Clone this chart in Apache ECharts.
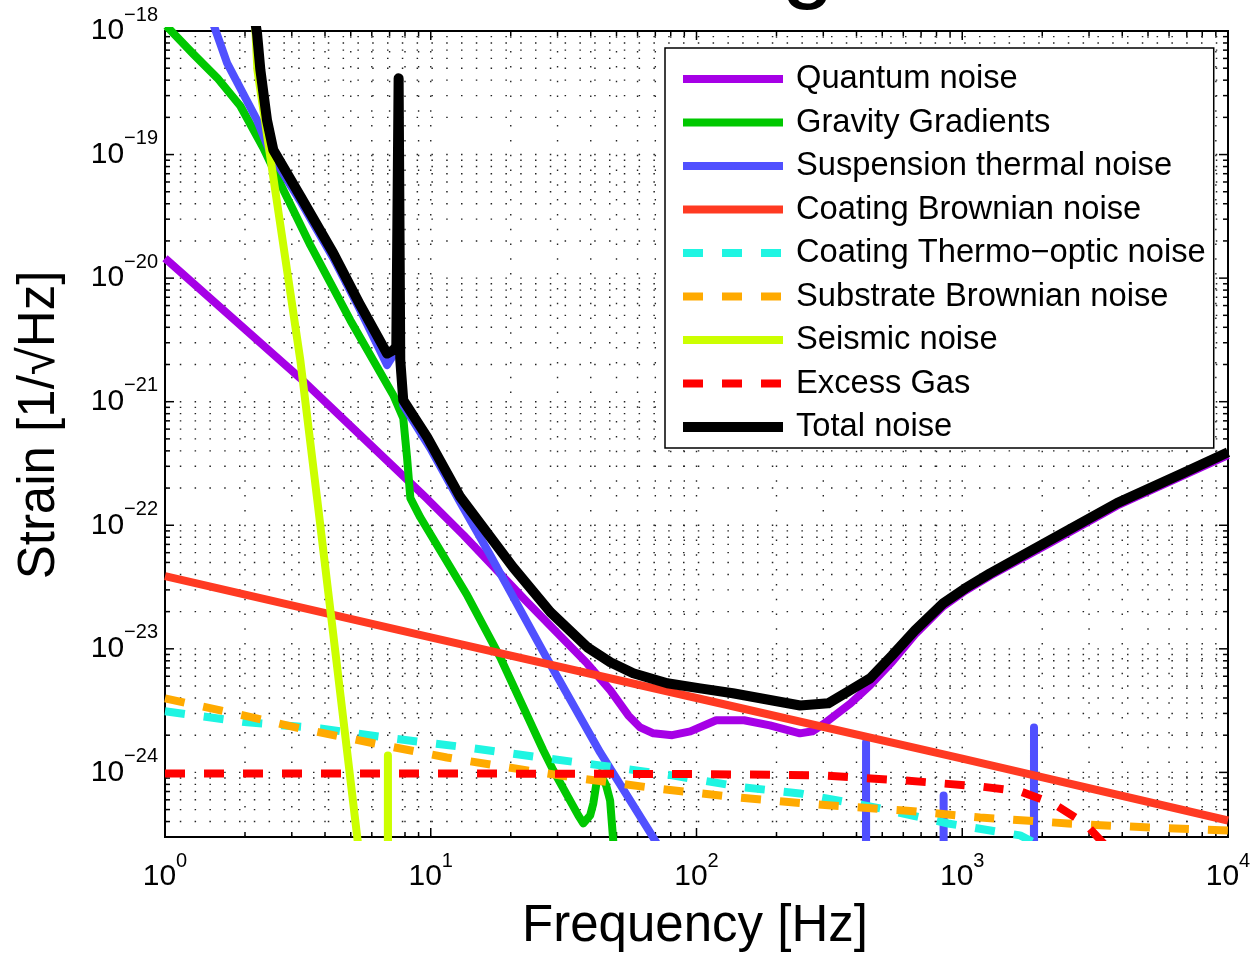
<!DOCTYPE html>
<html>
<head>
<meta charset="utf-8">
<title>Noise budget</title>
<script src="https://cdn.jsdelivr.net/npm/echarts@6/dist/echarts.min.js"></script>
<style>
  html, body { margin: 0; padding: 0; background: #fff; }
  #main { width: 1254px; height: 954px; }
</style>
</head>
<body>
<div id="main"></div>
<script type="text/javascript">
// values, [frequency Hz, strain 1/sqrt(Hz)]
const quantumNoise = [
  [1, 1.45e-20], [3.23, 1.55e-21], [9.68, 1.64e-22], [13.3, 8.3e-23], [22.7, 2.47e-23],
  [38.8, 7.6e-24], [47.4, 4.61e-24], [55.4, 2.89e-24], [61.4, 2.31e-24], [68.8, 2.07e-24],
  [81, 2.0e-24], [94.8, 2.15e-24], [118.6, 2.64e-24], [151, 2.64e-24], [189, 2.4e-24],
  [245, 2.07e-24], [273, 2.15e-24], [303, 2.49e-24], [380, 3.62e-24], [450, 5.06e-24],
  [545, 7.85e-24], [664, 1.31e-23], [847, 2.2e-23], [1026, 2.95e-23], [1273, 3.9e-23],
  [2140, 7.2e-23], [3822, 1.44e-22], [6770, 2.52e-22], [10000, 3.7e-22]
];
const gravityGradients = [
  [1.012, 1.1e-18], [1.279, 6.5e-19], [1.574, 4.16e-19], [1.921, 2.47e-19], [2.345, 1.13e-19],
  [2.789, 5.16e-20], [3.523, 1.85e-20], [4.98, 4.57e-21], [7.23, 1.13e-21], [7.88, 7.35e-22],
  [8.14, 3.57e-22], [8.38, 1.66e-22], [9.13, 1.16e-22], [13.73, 2.7e-23], [18.26, 8.53e-24],
  [26.5, 1.51e-24], [28.9, 1.04e-24], [35.9, 4.49e-25], [37.5, 3.87e-25], [39.8, 4.49e-25],
  [40.9, 5.61e-25], [42.3, 8.93e-25], [43.4, 9.8e-25], [45.7, 7.85e-25], [47.3, 5.93e-25],
  [48.6, 2.81e-25], [49, 1.94e-25]
];
const suspensionThermal = [
  [1.456, 1.48e-18], [1.713, 5.5e-19], [2.22, 1.9e-19], [2.492, 1.03e-19], [3.23, 4.2e-20],
  [4.30, 1.45e-20], [5.43, 5.5e-21], [6.85, 1.98e-21], [7.42, 2.6e-21], [7.57, 3.0e-19],
  [7.68, 2.0e-21], [7.88, 9.37e-22], [9.96, 4.2e-22], [12.92, 1.53e-22], [16.75, 5.71e-23],
  [26.97, 8.85e-24], [43.4, 1.45e-24], [68.7, 2.98e-25], [73.1, 2.38e-25], [200, 1e-27],
  // violin modes
  [433.5, 1e-27], [434.5, 1.75e-24], [435.5, 1e-27],
  [849, 1e-27], [851, 6.5e-25], [853, 1e-27],
  [1858, 1e-27], [1862, 2.31e-24], [1866, 1e-27], [10000, 1e-27]
];
const coatingBrownian = [
  [1, 3.87e-23], [10, 1.24e-23], [100, 4.0e-24], [1000, 1.29e-24], [10000, 4.08e-25]
];
const coatingThermoOptic = [
  [1, 3.12e-24], [2.04, 2.54e-24], [3.84, 2.27e-24], [7.23, 1.88e-24], [13.7, 1.59e-24],
  [25.8, 1.32e-24], [43.4, 1.14e-24], [81, 9.46e-25], [151, 7.56e-25], [245, 6.76e-25],
  [491, 5.11e-25], [885, 3.86e-25], [1651, 3.09e-25], [1963, 2.56e-25], [3300, 1.33e-25],
  [10000, 6.3e-26]
];
const substrateBrownian = [
  [1, 3.97e-24], [1.972, 2.89e-24], [3.23, 2.27e-24], [6.08, 1.72e-24], [11.5, 1.32e-24],
  [19.4, 1.10e-24], [36.5, 8.93e-25], [70.6, 7.42e-25], [141, 6.28e-25], [313, 5.41e-25],
  [604, 4.92e-25], [1167, 4.32e-25], [2500, 3.86e-25], [4875, 3.59e-25], [10000, 3.39e-25]
];
const seismicNoise = [
  [2.169, 1.48e-18], [2.227, 4.84e-19], [2.717, 2.69e-20], [3.23, 2.17e-21], [3.743, 1.59e-22],
  [4.45, 6.95e-24], [5.29, 2.98e-25], [5.43, 1.87e-25], [6.0, 1e-27],
  [6.88, 1e-27], [6.90, 1.37e-24], [6.92, 1e-27], [10, 1e-27]
];
const excessGas = [
  [1, 9.8e-25], [10, 9.8e-25], [100, 9.7e-25], [292, 9.46e-25], [604, 8.61e-25],
  [1167, 7.7e-25], [1651, 7.02e-25], [2198, 5.61e-25], [2898, 3.86e-25], [3600, 2.33e-25],
  [10000, 3.6e-26]
];
const totalNoise = [
  [2.15, 1.48e-18], [2.22, 9.6e-19], [2.285, 4.84e-19], [2.42, 1.9e-19], [2.557, 1.09e-19],
  [3.23, 4.61e-20], [4.30, 1.59e-20], [5.43, 6.04e-21], [6.85, 2.45e-21], [7.23, 2.61e-21],
  [7.42, 2.81e-21], [7.57, 4.14e-19], [7.68, 2.17e-21], [7.88, 1.03e-21], [9.68, 5.19e-22],
  [12.92, 1.69e-22], [20.4, 4.57e-23], [28.2, 1.98e-23], [38.8, 1.03e-23], [47.4, 7.78e-24],
  [57.8, 6.34e-24], [77.6, 5.26e-24], [103.3, 4.79e-24], [137, 4.37e-24], [245.5, 3.48e-24],
  [313, 3.62e-24], [378.6, 4.62e-24], [450, 5.77e-24], [544.5, 8.85e-24], [664, 1.41e-23],
  [847, 2.33e-23], [1026, 3.09e-23], [1273, 4.08e-23], [2140, 7.57e-23], [3822, 1.51e-22],
  [6770, 2.64e-22], [10000, 3.9e-22]
];

const seriesNames = ['Quantum noise', 'Gravity Gradients', 'Suspension thermal noise',
  'Coating Brownian noise', 'Coating Thermo\u2212optic noise', 'Substrate Brownian noise',
  'Seismic noise', 'Excess Gas', 'Total noise'];
const seriesData = [quantumNoise, gravityGradients, suspensionThermal, coatingBrownian,
  coatingThermoOptic, substrateBrownian, seismicNoise, excessGas, totalNoise];
const seriesColors = ['#a600e6', '#00c800', '#5050ff', '#ff3a22', '#1ff5e2', '#ffaa00',
  '#ccff00', '#ff0000', '#000000'];
const seriesDashed = [false, false, false, false, true, true, false, true, false];

// axis range and tick values
const X_MIN = 1, X_MAX = 1e4, Y_MIN = 3e-25, Y_MAX = 1e-18;
const xDecades = [1, 10, 100, 1000];
const yDecades = [1e-25, 1e-24, 1e-23, 1e-22, 1e-21, 1e-20, 1e-19];
const minorSteps = [2, 3, 4, 5, 6, 7, 8, 9];

// the v6 log scale rounds an extent like 3e-25 down to 0, so the strain axis
// works in units of 1e-25 and the labels add the exponent back
const Y_UNIT_EXP = -25;
const Y_UNIT = 1e-25;
function ys(v) { return v / Y_UNIT; }

const FONT = '"Liberation Sans", Arial, sans-serif';

var xTicks = [];
xDecades.forEach(function (d) {
  if (d > X_MIN) xTicks.push([d, ys(Y_MIN), 1]);
  minorSteps.forEach(function (m) { xTicks.push([m * d, ys(Y_MIN), 0]); });
});
var yTicks = [];
yDecades.forEach(function (d) {
  if (d > Y_MIN && d < Y_MAX) yTicks.push([X_MIN, ys(d), 1]);
  minorSteps.forEach(function (m) {
    var v = m * d;
    if (v > Y_MIN * 1.001 && v < Y_MAX) yTicks.push([X_MIN, ys(v), 0]);
  });
});

function powText(r) {
  return '{b|10}{s|' + (r < 0 ? '\u2212' + (-r) : r) + '}';
}
function xLabel(v) {
  var e = Math.log10(v), r = Math.round(e);
  return Math.abs(e - r) > 1e-6 ? '' : powText(r);
}
function yLabel(v) {
  var e = Math.log10(v), r = Math.round(e);
  return Math.abs(e - r) > 1e-6 ? '' : powText(r + Y_UNIT_EXP);
}
var labelRich = {
  b: { fontFamily: FONT, fontSize: 30, lineHeight: 52, verticalAlign: 'middle', color: '#000' },
  s: { fontFamily: FONT, fontSize: 20, lineHeight: 20, verticalAlign: 'top', color: '#000' }
};

var dotted = { stroke: '#222', lineWidth: 1.4, lineDash: [1.5, 13.3] };
var tickStyle = { stroke: '#000', lineWidth: 1.5 };

function renderXTicks(params, api) {
  var v = api.value(0), len = api.value(2) ? 9 : 5;
  var b = api.coord([v, ys(Y_MIN)]), t = api.coord([v, ys(Y_MAX)]);
  return { type: 'group', children: [
    { type: 'line', shape: { x1: b[0], y1: b[1], x2: t[0], y2: t[1] }, style: dotted },
    { type: 'line', shape: { x1: b[0], y1: b[1], x2: b[0], y2: b[1] - len }, style: tickStyle },
    { type: 'line', shape: { x1: t[0], y1: t[1], x2: t[0], y2: t[1] + len }, style: tickStyle }
  ]};
}
function renderYTicks(params, api) {
  var v = api.value(1), len = api.value(2) ? 9 : 5;
  var l = api.coord([X_MIN, v]), r = api.coord([X_MAX, v]);
  return { type: 'group', children: [
    { type: 'line', shape: { x1: l[0], y1: l[1], x2: r[0], y2: r[1] }, style: dotted },
    { type: 'line', shape: { x1: l[0], y1: l[1], x2: l[0] + len, y2: l[1] }, style: tickStyle },
    { type: 'line', shape: { x1: r[0], y1: r[1], x2: r[0] - len, y2: r[1] }, style: tickStyle }
  ]};
}

var series = [
  { type: 'custom', silent: true, z: 1, data: xTicks, dimensions: ['x', 'y', 'major'],
    encode: { x: 0, y: 1 }, renderItem: renderXTicks },
  { type: 'custom', silent: true, z: 1, data: yTicks, dimensions: ['x', 'y', 'major'],
    encode: { x: 0, y: 1 }, renderItem: renderYTicks }
];
seriesNames.forEach(function (name, i) {
  series.push({
    name: name,
    type: 'line',
    data: seriesData[i].map(function (p) { return [p[0], ys(p[1])]; }),
    symbol: 'none',
    showSymbol: false,
    clip: true,
    z: 2,
    color: seriesColors[i],
    lineStyle: {
      color: seriesColors[i],
      width: i === 8 ? 10 : 8,
      type: seriesDashed[i] ? [20, 19] : 'solid',
      cap: 'butt',
      join: 'round'
    }
  });
});

var myChart = echarts.init(document.getElementById('main'));
var option = {
  animation: false,
  backgroundColor: '#fff',
  grid: { left: 165, top: 31, right: 26, bottom: 117, show: true, outerBoundsMode: 'none',
          borderColor: '#000', borderWidth: 2, backgroundColor: 'transparent' },
  xAxis: {
    type: 'log', logBase: 10, min: X_MIN, max: X_MAX,
    axisLine: { show: false }, axisTick: { show: false }, splitLine: { show: false },
    axisLabel: { formatter: xLabel, rich: labelRich, margin: 14 }
  },
  yAxis: {
    type: 'log', logBase: 10, min: ys(Y_MIN), max: ys(Y_MAX),
    axisLine: { show: false }, axisTick: { show: false }, splitLine: { show: false },
    axisLabel: { formatter: yLabel, rich: labelRich, margin: 7 }
  },
  legend: {
    data: seriesNames,
    orient: 'vertical',
    left: 665, top: 48,
    itemWidth: 100, itemHeight: 8, itemGap: 5.5,
    padding: [12, 8, 2, 13],
    backgroundColor: '#fff', borderColor: '#000', borderWidth: 1.5, borderRadius: 0,
    lineStyle: { width: 'inherit' },
    textStyle: { fontFamily: FONT, fontSize: 32.7, lineHeight: 38, color: '#000', padding: [0, 0, 0, 8] },
    selectedMode: false
  },
  graphic: [
    { type: 'text', x: 40, y: 425, rotation: Math.PI / 2, silent: true,
      style: { text: 'Strain [1/\u221aHz]', fontFamily: FONT, fontSize: 51, fill: '#000',
               align: 'center', verticalAlign: 'middle' } },
    { type: 'text', x: 695, y: 927, silent: true,
      style: { text: 'Frequency [Hz]', fontFamily: FONT, fontSize: 51, fill: '#000',
               align: 'center', verticalAlign: 'middle' } },
    // bottom of the cut-off title above the frame
    { type: 'text', x: 808, y: -36, silent: true,
      style: { text: 'g', fontFamily: FONT, fontSize: 96, fill: '#000',
               align: 'center', verticalAlign: 'middle' } }
  ],
  series: series
};
myChart.setOption(option);
</script>
</body>
</html>
